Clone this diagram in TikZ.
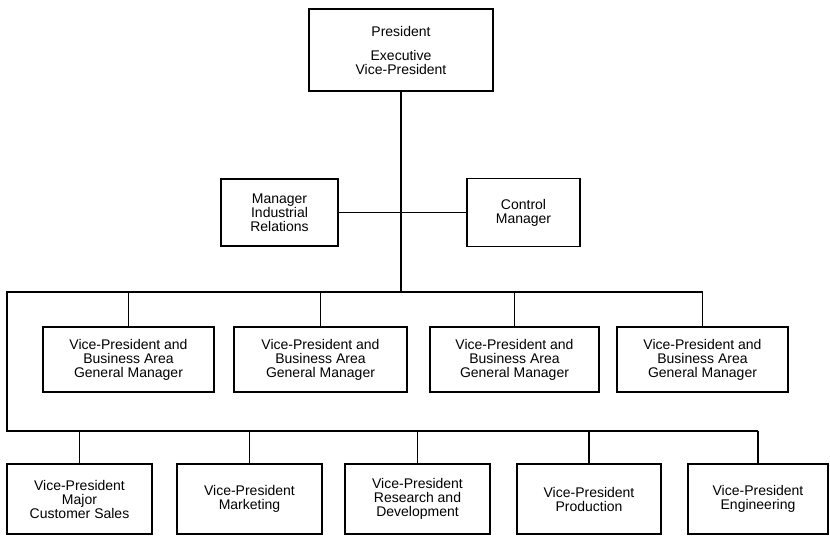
\documentclass[tikz,border=0pt]{standalone}
\usepackage{fontspec}
\setmainfont{Liberation Sans}
\begin{document}
\begin{tikzpicture}[x=1pt,y=-1pt,
  box/.style={draw,line width=1.6pt,rectangle,inner sep=0pt,align=center,
    font=\fontsize{14}{14}\selectfont},
  link/.style={line width=1.6pt}]
\useasboundingbox (0,0) rectangle (830,536);
% top
\node[box,minimum width=184pt,minimum height=82pt] (pres) at (401,50)
  {President\\[10pt]Executive\\Vice-President};
\node[box,minimum width=117pt,minimum height=67pt] (mir) at (279.5,212.5)
  {Manager\\Industrial\\Relations};
\node[box,minimum width=113pt,minimum height=68pt] (cm) at (523.5,212.5)
  {Control\\Manager};
% business area row
\node[box,minimum width=171pt,minimum height=65pt] (ba1) at (128.5,359.5)
  {Vice-President and\\Business Area\\General Manager};
\node[box,minimum width=173pt,minimum height=65pt] (ba2) at (320.5,359.5)
  {Vice-President and\\Business Area\\General Manager};
\node[box,minimum width=169pt,minimum height=65pt] (ba3) at (514.5,359.5)
  {Vice-President and\\Business Area\\General Manager};
\node[box,minimum width=171pt,minimum height=65pt] (ba4) at (702.5,359.5)
  {Vice-President and\\Business Area\\General Manager};
% functional row
\node[box,minimum width=145pt,minimum height=70pt] (f1) at (79.5,499)
  {Vice-President\\Major\\Customer Sales};
\node[box,minimum width=145pt,minimum height=70pt] (f2) at (249.5,499)
  {Vice-President\\Marketing};
\node[box,minimum width=145pt,minimum height=70pt] (f3) at (417.5,499)
  {Vice-President\\Research and\\Development};
\node[box,minimum width=144pt,minimum height=70pt] (f4) at (589,499)
  {Vice-President\\Production};
\node[box,minimum width=140pt,minimum height=70pt] (f5) at (758,499)
  {Vice-President\\Engineering};
% bus coordinates
\coordinate (b1L) at (7,292);
\coordinate (b1R) at (702.5,292);
\coordinate (b2L) at (7,431);
\coordinate (b2R) at (758,431);
% connectors
\draw[link] (pres.south) -- (pres.south |- b1L);
\draw[link] (mir.east) -- (cm.west);
\draw[link] (b1R) -- (b1L) -- (b2L) -- (b2R);
\foreach \n in {ba1,ba2,ba3,ba4}
  \draw[link] (\n.north) -- (\n.north |- b1L);
\foreach \n in {f1,f2,f3,f4,f5}
  \draw[link] (\n.north) -- (\n.north |- b2L);
\end{tikzpicture}
\end{document}
